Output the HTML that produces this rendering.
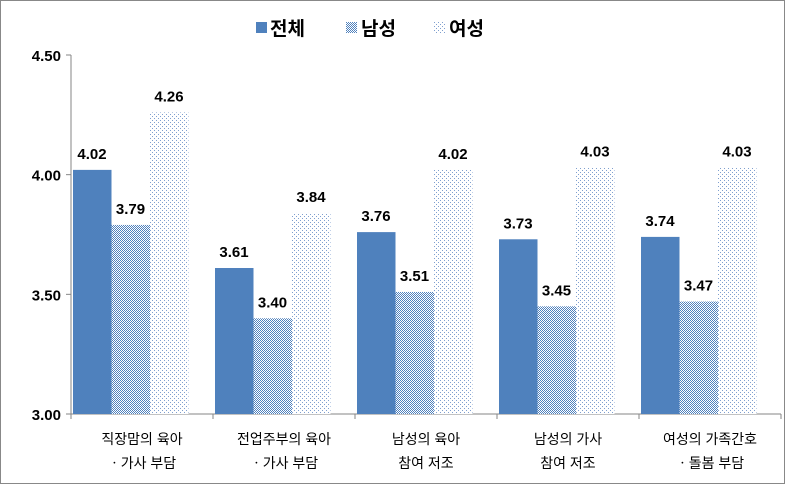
<!DOCTYPE html>
<html><head><meta charset="utf-8">
<style>
body{margin:0;background:#fff;}
svg{display:block;font-family:"Liberation Sans","Noto Sans CJK KR",sans-serif;}
</style></head>
<body>
<svg id="chart" width="785" height="484" viewBox="0 0 785 484">
<defs>
<pattern id="chk" width="2" height="2" patternUnits="userSpaceOnUse">
<rect width="2" height="2" fill="#fff"/><rect width="1" height="1" fill="#4f81bd"/><rect x="1" y="1" width="1" height="1" fill="#4f81bd"/>
</pattern>
<pattern id="dot" width="4" height="4" patternUnits="userSpaceOnUse">
<rect width="4" height="4" fill="#fff"/><rect width="1" height="1" fill="#7f9fcf"/><rect x="2" y="2" width="1" height="1" fill="#7f9fcf"/>
</pattern>
</defs>
<rect x="0.5" y="0.5" width="784" height="483" fill="#fff" stroke="#888"/>
<g id="legend">
<g><rect x="256" y="22" width="11" height="11" fill="#4f81bd"/><text x="270" y="35" font-size="19" font-weight="bold">전체</text></g>
<g><rect x="346" y="22" width="11" height="11" fill="url(#chk)"/><text x="361" y="35" font-size="19" font-weight="bold">남성</text></g>
<g><rect x="434" y="22" width="11" height="11" fill="url(#dot)"/><text x="449" y="35" font-size="19" font-weight="bold">여성</text></g>
</g>
<g id="axes"></g>
<g id="bars"></g>
</svg>
<script>
const categories=[["직장맘의 육아","ㆍ가사 부담"],["전업주부의 육아","ㆍ가사 부담"],["남성의 육아","참여 저조"],["남성의 가사","참여 저조"],["여성의 가족간호","ㆍ돌봄 부담"]];
const totalVals=[4.02,3.61,3.76,3.73,3.74];
const maleVals=[3.79,3.40,3.51,3.45,3.47];
const femaleVals=[4.26,3.84,4.02,4.03,4.03];
const yTicks=[3.00,3.50,4.00,4.50];
const NS="http://www.w3.org/2000/svg";
const x0=71,x1=781,yBase=414,yTop=55,vMin=3,vMax=4.5;
const y=v=>yBase-(v-vMin)/(vMax-vMin)*(yBase-yTop);
const bw=(x1-x0)/categories.length;
function mk(t,a,p){const e=document.createElementNS(NS,t);for(const k in a)e.setAttribute(k,a[k]);p.appendChild(e);return e;}
const ax=document.getElementById('axes'),bg=document.getElementById('bars');
const yl=mk('line',{x1:x0,y1:yTop,x2:x0,y2:yBase,stroke:'#868686'},ax);


yTicks.forEach(v=>{
 const t=mk('text',{x:x0-10,y:y(v)+6,'text-anchor':'end','font-size':15,'font-weight':'bold'},ax);
 t.textContent=v.toFixed(2);
 
 
 mk('line',{x1:x0-5,y1:y(v),x2:x0,y2:y(v),stroke:'#868686'},ax);
});
const xl=mk('line',{x1:x0,y1:yBase,x2:x1,y2:yBase,stroke:'#868686'},ax);


for(let i=0;i<=categories.length;i++){mk('line',{x1:x0+i*bw,y1:yBase,x2:x0+i*bw,y2:yBase+5,stroke:'#868686'},ax);}
const series=[[totalVals,'#4f81bd','total'],[maleVals,'url(#chk)','male'],[femaleVals,'url(#dot)','female']];
categories.forEach((c,i)=>{
 const gx=x0+i*bw+2;
 series.forEach((s,j)=>{
  const v=s[0][i],bx=gx+j*38.5;
  const r=mk('rect',{x:bx,y:y(v),width:38.5,height:yBase-y(v),fill:s[1]},bg);
  
  
  const t=mk('text',{x:bx+19,y:y(v)-11,'text-anchor':'middle','font-size':15,'font-weight':'bold'},bg);
  t.textContent=v.toFixed(2);
  
  
 });
 c.forEach((ln,k)=>{
  const t=mk('text',{x:x0+i*bw+bw/2,y:444+k*24,'text-anchor':'middle','font-size':14},ax);
  t.textContent=ln;
  
  
 });
});
</script>
</body></html>
